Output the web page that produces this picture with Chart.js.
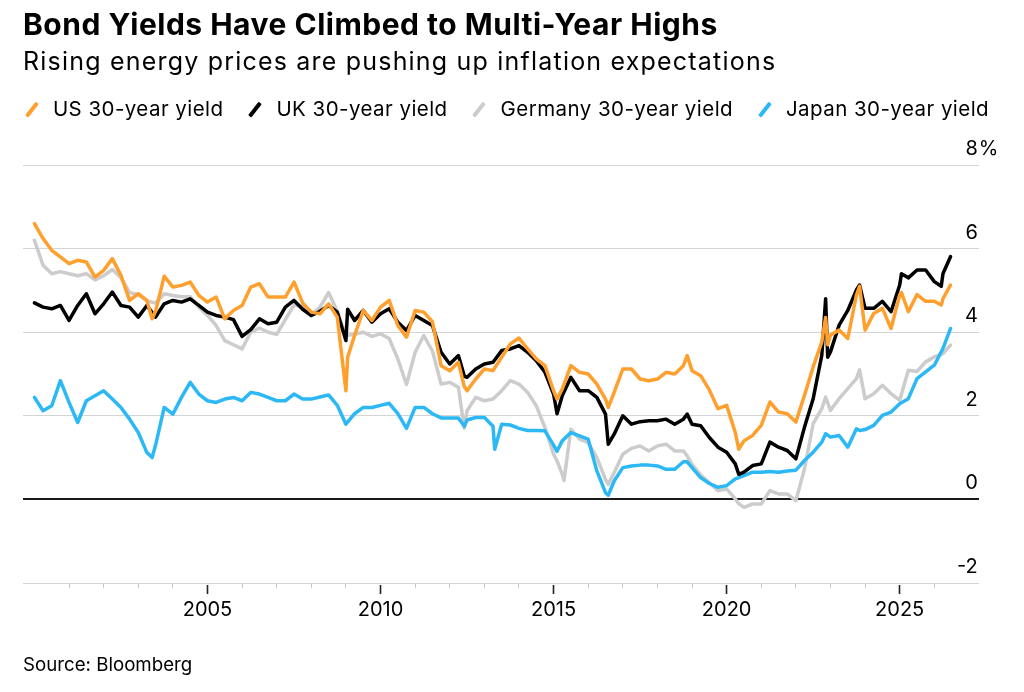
<!DOCTYPE html>
<html>
<head>
<meta charset="utf-8">
<script src="https://cdn.jsdelivr.net/npm/chart.js@4.4.1/dist/chart.umd.min.js"></script>
<style>
  html, body { margin: 0; padding: 0; background: #fff; }
  body { width: 1024px; height: 692px; position: relative; overflow: hidden; font-family: Inter, "Liberation Sans", sans-serif; color: #000; }
  #graph { position: absolute; left: 0; top: 0; }
  .txt { position: absolute; white-space: nowrap; }
  #title { left: 23px; top: 9px; font-size: 30px; line-height: 30px; font-weight: 700; letter-spacing: 0.5px; }
  #subtitle { left: 23px; top: 49px; font-size: 25px; line-height: 25px; letter-spacing: 1.2px; }
  #legend { left: 25px; top: 99px; font-size: 20.5px; line-height: 20.5px; letter-spacing: 0.45px; display: flex; gap: 25px; }
  #legend .item { display: flex; align-items: center; }
  #legend .slash { width: 3.5px; height: 17px; margin-left: 4.7px; margin-right: 19.7px; transform: rotate(38deg); border-radius: 1px; }
  #source { left: 23px; top: 656px; font-size: 18.7px; line-height: 18.7px; }
</style>
</head>
<body>
<canvas id="graph" width="1024" height="692"></canvas>
<div id="title" class="txt">Bond Yields Have Climbed to Multi-Year Highs</div>
<div id="subtitle" class="txt">Rising energy prices are pushing up inflation expectations</div>
<div id="legend" class="txt"></div>
<div id="source" class="txt">Source: Bloomberg</div>
<script>
// decimal years, roughly quarterly, with a few extra dates at the spikes
const years = [
  2000.0, 2000.25, 2000.5, 2000.75, 2001.0, 2001.25, 2001.5, 2001.75,
  2002.0, 2002.25, 2002.5, 2002.75, 2003.0, 2003.25, 2003.4, 2003.5, 2003.75,
  2004.0, 2004.25, 2004.5, 2004.75, 2005.0, 2005.25, 2005.5, 2005.75,
  2006.0, 2006.25, 2006.5, 2006.75, 2007.0, 2007.25, 2007.5, 2007.75,
  2008.0, 2008.25, 2008.5, 2008.75, 2009.0, 2009.05, 2009.25, 2009.5, 2009.75,
  2010.0, 2010.25, 2010.5, 2010.75, 2011.0, 2011.25, 2011.5, 2011.75,
  2012.0, 2012.25, 2012.42, 2012.5, 2012.75, 2013.0, 2013.25, 2013.3, 2013.5, 2013.75,
  2014.0, 2014.25, 2014.5, 2014.75, 2015.0, 2015.1, 2015.25, 2015.3, 2015.5, 2015.75,
  2016.0, 2016.25, 2016.5, 2016.58, 2016.75, 2017.0, 2017.25, 2017.5, 2017.75,
  2018.0, 2018.25, 2018.5, 2018.75, 2018.86, 2019.0, 2019.25, 2019.5, 2019.75,
  2020.0, 2020.25, 2020.35, 2020.5, 2020.75, 2021.0, 2021.25, 2021.5, 2021.75,
  2022.0, 2022.25, 2022.5, 2022.75, 2022.86, 2022.92, 2023.0, 2023.25, 2023.5, 2023.75, 2023.84,
  2024.0, 2024.25, 2024.5, 2024.75, 2025.0, 2025.05, 2025.25, 2025.5, 2025.75,
  2026.0, 2026.2, 2026.25, 2026.47
];

const us30 = [
  6.6, 6.24, 5.96, 5.8, 5.64, 5.72, 5.68, 5.32,
  5.48, 5.76, 5.36, 4.76, 4.92, 4.76, 4.32, 4.5, 5.34,
  5.08, 5.12, 5.2, 4.88, 4.72, 4.84, 4.32, 4.52,
  4.64, 5.08, 5.16, 4.84, 4.84, 4.84, 5.2, 4.7,
  4.48, 4.44, 4.68, 4.36, 2.6, 3.4, 3.92, 4.52, 4.28,
  4.6, 4.76, 4.16, 3.88, 4.52, 4.48, 4.25, 3.2,
  3.08, 3.28, 2.7, 2.6, 2.88, 3.12, 3.08, null, 3.4, 3.72,
  3.86, 3.6, 3.36, 3.2, 2.6, 2.4, 2.64, null, 3.2, 3.04,
  3.0, 2.76, 2.4, 2.2, 2.56, 3.12, 3.12, 2.88, 2.84,
  2.88, 3.04, 3.0, 3.2, 3.44, 3.08, 2.96, 2.62, 2.17,
  2.25, 1.6, 1.2, 1.4, 1.53, 1.77, 2.33, 2.09, 2.05,
  1.85, 2.49, 3.17, 3.77, 4.35, 3.7, 3.93, 4.05, 3.85, 4.89, 5.1,
  4.05, 4.45, 4.57, 4.09, 4.89, 4.95, 4.49, 4.9, 4.74,
  4.74, 4.65, 4.8, 5.13
];

const uk30 = [
  4.7, 4.6, 4.56, 4.64, 4.28, 4.64, 4.92, 4.44,
  4.68, 4.96, 4.64, 4.6, 4.36, 4.64, null, 4.36, 4.68,
  4.76, 4.72, 4.8, 4.64, 4.48, 4.4, 4.36, 4.3,
  3.9, 4.06, 4.32, 4.2, 4.24, 4.6, 4.76, 4.55,
  4.4, 4.5, 4.64, 4.48, 3.8, 4.55, 4.28, 4.52, 4.24,
  4.44, 4.56, 4.24, 4.04, 4.4, 4.28, 4.16, 3.52,
  3.24, 3.44, 2.95, 2.92, 3.12, 3.24, 3.28, null, 3.56, 3.6,
  3.68, 3.52, 3.32, 3.04, 2.52, 2.05, 2.48, null, 2.92, 2.6,
  2.6, 2.44, 2.04, 1.32, 1.56, 2.0, 1.8, 1.86, 1.88,
  1.88, 1.92, 1.8, 1.92, 2.04, 1.8, 1.76, 1.48, 1.25,
  1.13, 0.85, 0.6, 0.65, 0.81, 0.85, 1.37, 1.25, 1.17,
  0.97, 1.73, 2.41, 3.45, 4.8, 3.4, 3.53, 4.17, 4.52, 5.01, 5.13,
  4.57, 4.57, 4.74, 4.49, 5.13, 5.4, 5.3, 5.49, 5.49,
  5.21, 5.1, 5.4, 5.81
];

const germany30 = [
  6.2, 5.6, 5.4, 5.45, 5.4, 5.35, 5.4, 5.25,
  5.35, 5.5, 5.3, 4.95, 4.9, 4.75, null, 4.7, 4.92,
  4.88, 4.85, 4.85, 4.6, 4.4, 4.16, 3.8, 3.7,
  3.6, 4.0, 4.1, 4.0, 3.95, 4.3, 4.65, 4.62,
  4.4, 4.6, 4.95, 4.5, 3.92, null, 3.95, 4.0, 3.9,
  3.96, 3.85, 3.36, 2.75, 3.52, 3.92, 3.55, 2.76,
  2.8, 2.68, 1.7, 2.12, 2.44, 2.36, 2.4, null, 2.6, 2.84,
  2.76, 2.56, 2.24, 1.72, 1.08, 0.92, 0.6, 0.45, 1.68, 1.44,
  1.36, 1.0, 0.48, 0.36, 0.64, 1.08, 1.22, 1.28, 1.16,
  1.28, 1.32, 1.16, 1.16, 1.04, 0.84, 0.58, 0.4, 0.21,
  0.25, 0.01, -0.1, -0.19, -0.11, -0.11, 0.21, 0.13, 0.13,
  -0.03, 0.73, 1.81, 2.17, 2.45, null, 2.13, 2.41, 2.65, 2.89, 3.1,
  2.41, 2.53, 2.73, 2.53, 2.37, null, 3.09, 3.06, 3.29,
  3.41, null, 3.49, 3.69
];

const japan30 = [
  2.44, 2.12, 2.24, 2.84, 2.32, 1.84, 2.36, 2.48,
  2.6, 2.4, 2.2, 1.92, 1.6, 1.12, 1.0, 1.3, 2.2,
  2.04, 2.44, 2.8, 2.52, 2.36, 2.32, 2.4, 2.44,
  2.36, 2.56, 2.52, 2.44, 2.36, 2.36, 2.52, 2.4,
  2.4, 2.45, 2.5, 2.25, 1.8, null, 2.05, 2.2, 2.2,
  2.25, 2.3, 2.05, 1.7, 2.2, 2.2, 2.05, 1.95,
  1.95, 1.95, 1.75, 1.9, 1.96, 1.96, 1.75, 1.2, 1.8, 1.78,
  1.7, 1.65, 1.65, 1.64, 1.3, 1.15, 1.4, null, 1.6, 1.52,
  1.44, 0.68, 0.16, 0.1, 0.44, 0.76, 0.8, 0.82, 0.82,
  0.8, 0.72, 0.72, 0.9, 0.9, 0.76, 0.52, 0.38, 0.29,
  0.33, 0.49, 0.52, 0.57, 0.65, 0.65, 0.67, 0.65, 0.68,
  0.7, 0.93, 1.13, 1.37, 1.57, null, 1.49, 1.53, 1.25, 1.69, 1.65,
  1.67, 1.77, 2.01, 2.09, 2.29, null, 2.41, 2.89, 3.05,
  3.21, null, 3.61, 4.09
];

const seriesNames = ['US 30-year yield', 'UK 30-year yield', 'Germany 30-year yield', 'Japan 30-year yield'];
const seriesColors = ['#ff9f2d', '#000000', '#cccccc', '#2bb8f4'];
const yTicks = [-2, 0, 2, 4, 6, 8];
const xTickLabels = [2005, 2010, 2015, 2020, 2025];

const FONT = 'Inter, "Liberation Sans", sans-serif';
const LABEL_LIFT = -16;

function toPoints(values) {
  return years.map((yr, i) => ({ x: yr, y: values[i] }));
}

// html legend, same look as the slashes in the original
const legendEl = document.getElementById('legend');
seriesNames.forEach((name, i) => {
  const item = document.createElement('span');
  item.className = 'item';
  item.innerHTML = '<span class="slash" style="background:' + seriesColors[i] + '"></span>' + name;
  legendEl.appendChild(item);
});

const percentSign = {
  id: 'percentSign',
  afterDraw(chart) {
    const y = chart.scales.y;
    const ctx = chart.ctx;
    ctx.save();
    ctx.font = '20px ' + FONT;
    ctx.fillStyle = '#000';
    ctx.textAlign = 'left';
    ctx.textBaseline = 'middle';
    ctx.fillText('%', y.left - 0.5, y.getPixelForValue(yTicks[yTicks.length - 1]) + LABEL_LIFT);
    ctx.restore();
  }
};

const isMajor = (v) => xTickLabels.includes(v);

const ctx = document.getElementById('graph');
new Chart(ctx, {
  type: 'line',
  data: {
    datasets: [
      { label: seriesNames[0], data: toPoints(us30), borderColor: seriesColors[0], order: 1 },
      { label: seriesNames[1], data: toPoints(uk30), borderColor: seriesColors[1], order: 2 },
      { label: seriesNames[2], data: toPoints(germany30), borderColor: seriesColors[2], order: 4 },
      { label: seriesNames[3], data: toPoints(japan30), borderColor: seriesColors[3], order: 3 }
    ]
  },
  options: {
    responsive: false,
    animation: false,
    spanGaps: true,
    layout: { padding: { left: 23, right: 44.7, top: 165, bottom: 59 } },
    elements: {
      point: { radius: 0, hoverRadius: 0 },
      line: { borderWidth: 3.5, tension: 0, borderJoinStyle: 'round', borderCapStyle: 'round', fill: false }
    },
    plugins: {
      legend: { display: false },
      tooltip: { enabled: false }
    },
    scales: {
      x: {
        type: 'linear',
        min: 1999.67,
        max: 2027.3,
        afterBuildTicks: (scale) => {
          const t = [];
          for (let yr = 2001; yr <= 2026; yr++) t.push({ value: yr });
          scale.ticks = t;
        },
        afterFit: (scale) => { scale.height = 50; },
        border: { display: false },
        grid: {
          drawOnChartArea: false,
          drawTicks: true,
          tickLength: 11,
          tickColor: (c) => isMajor(c.tick.value) ? '#222222' : '#c4c4c4',
          tickWidth: (c) => isMajor(c.tick.value) ? 1.6 : 1,
          tickBorderDash: (c) => isMajor(c.tick.value) ? [0, 2, 9, 30] : [5, 30]
        },
        ticks: {
          autoSkip: false,
          maxRotation: 0,
          padding: 4,
          color: '#000',
          font: { family: FONT, size: 20 },
          callback: (v) => isMajor(v) ? String(v) : ''
        }
      },
      y: {
        type: 'linear',
        position: 'right',
        min: -2,
        max: 8,
        afterBuildTicks: (scale) => { scale.ticks = yTicks.map((v) => ({ value: v })); },
        afterFit: (scale) => { scale.width = 0; },
        border: { display: false },
        grid: {
          drawTicks: false,
          color: (c) => c.tick.value === 0 ? '#1a1a1a' : '#d4d4d4',
          lineWidth: (c) => c.tick.value === 0 ? 2 : 1
        },
        ticks: {
          mirror: true,
          padding: -1.5,
          labelOffset: LABEL_LIFT,
          color: '#000',
          font: { family: FONT, size: 20 },
          callback: (v) => String(v)
        }
      }
    }
  },
  plugins: [percentSign]
});
</script>
</body>
</html>
